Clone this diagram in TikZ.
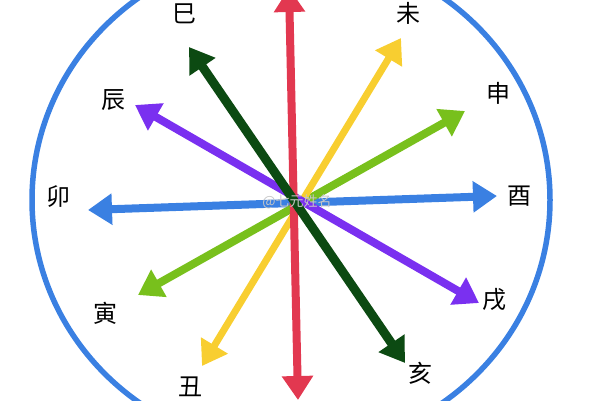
\documentclass[tikz,border=0pt]{standalone}
\usepackage{fontspec}
\usepackage{xcolor}
\newfontfamily\cjk{Noto Sans CJK SC}
\usetikzlibrary{arrows.meta}

\definecolor{ringblue}{RGB}{58,128,226}
\definecolor{axisred}{RGB}{226,56,80}
\definecolor{deepgreen}{RGB}{12,74,18}
\definecolor{violet}{RGB}{122,48,240}
\definecolor{sunyellow}{RGB}{248,206,48}
\definecolor{leafgreen}{RGB}{120,192,28}

\begin{document}
\begin{tikzpicture}[
    x=1pt, y=-1pt,
    font=\cjk\fontsize{24}{24}\selectfont,
    branch/.style={line width=8pt,
        {Triangle[length=24pt,width=30pt]}-{Triangle[length=24pt,width=30pt]}},
]

\useasboundingbox (0,0) rectangle (600,400);

% Outer ring
\draw[ringblue, line width=5.5pt] (291,200) ellipse [x radius=259pt, y radius=250pt];

% Arrow tips
\coordinate (mao-tip) at (88,210);     % Left
\coordinate (you-tip) at (497,196);    % Right
\coordinate (shen-tip) at (465,111);
\coordinate (yin-tip) at (138,295);
\coordinate (wei-tip) at (401,38);
\coordinate (chou-tip) at (202,366);
\coordinate (chen-tip) at (135,105);
\coordinate (xu-tip) at (479,303);
\coordinate (wu-tip) at (289,-12);     % Top (cut off)
\coordinate (zi-tip) at (298,400);     % Bottom
\coordinate (si-tip) at (189,47);
\coordinate (hai-tip) at (405,363);

% Branch labels
\node (si) at (184,14) {巳};
\node (wei) at (408,13) {未};
\node (shen) at (498,93) {申};
\node (you) at (519,196) {酉};
\node (xu) at (494,300) {戌};
\node (hai) at (420,373) {亥};
\node (chou) at (190,387) {丑};
\node (yin) at (105,313) {寅};
\node (mao) at (58,197) {卯};
\node (chen) at (113,100) {辰};

% Double arrows
\draw[branch, ringblue] (mao-tip) -- (you-tip);
\draw[branch, leafgreen] (yin-tip) -- (shen-tip);
\draw[branch, sunyellow, line width=7pt] (chou-tip) -- (wei-tip);
\draw[branch, violet] (chen-tip) -- (xu-tip);
\draw[branch, axisred] (wu-tip) -- (zi-tip);
\draw[branch, deepgreen, line width=9pt] (si-tip) -- (hai-tip);

% Watermark
\node[font=\cjk\fontsize{14}{14}\selectfont, text=gray!45] (mark) at (297,202) {@七元姓名};

\end{tikzpicture}
\end{document}
